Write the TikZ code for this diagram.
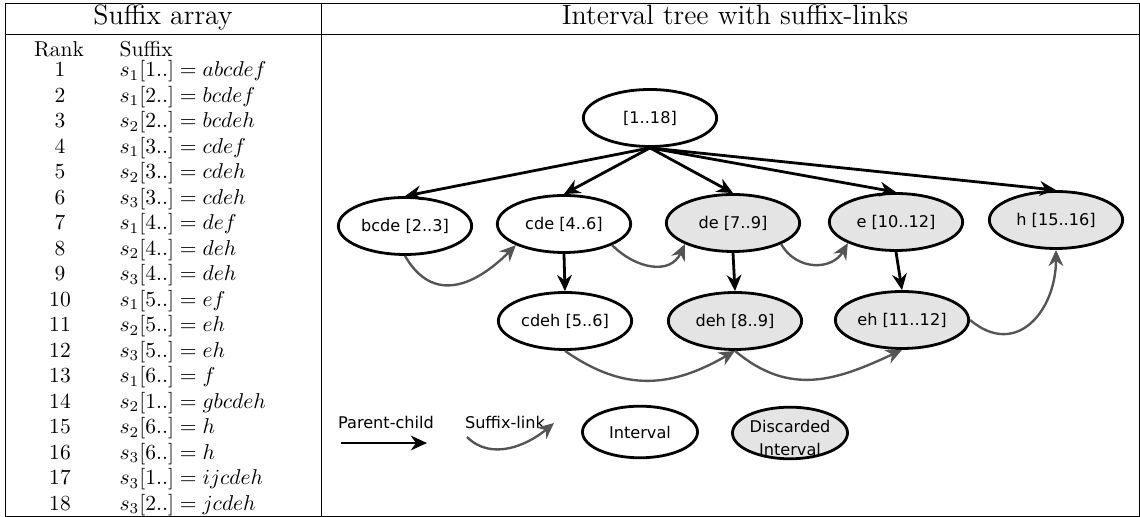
\documentclass[tikz,border=0pt]{standalone}
\usepackage{amsmath}
\usepackage{fontspec}
\setsansfont{DejaVu Sans}
\usetikzlibrary{arrows.meta,shapes.geometric}
\definecolor{discgray}{RGB}{228,228,228}
\definecolor{linkgray}{RGB}{85,85,85}
\tikzset{
	ival/.style={ellipse,draw,line width=1.3pt,inner sep=0pt,minimum width=62pt,minimum height=26.5pt,font=\sffamily\fontsize{7.5}{10.5}\selectfont},
	dival/.style={ival,fill=discgray},
	pc/.style={-{Stealth[length=7.5pt,width=6.8pt]},line width=1.3pt},
	sl/.style={-{Stealth[length=7.5pt,width=6.8pt]},line width=1.1pt,linkgray},
	lgd/.style={font=\sffamily\fontsize{7.5}{10.5}\selectfont},
	hdr/.style={font=\fontsize{13}{15.5}\selectfont,anchor=base}
}

\begin{document}
\begin{tikzpicture}[x=0.465pt,y=0.465pt]
	\useasboundingbox (0,0) rectangle (1140,-517);
	% table frame
	\draw [line width=0.4pt] (5,-3.5) rectangle (1139.8,-516);
	\draw [line width=0.4pt] (5,-34.5) -- (1139.8,-34.5);
	\draw [line width=0.4pt] (321,-3.5) -- (321,-516);
	\node [hdr] (hdsa) at (163,-25) {Suffix array};
	\node [hdr] (hdit) at (735,-25) {Interval tree with suffix-links};

	% suffix array
	\node [anchor=base] (rank0) at (59,-57) {Rank};
	\node [anchor=base west] (suf0) at (112,-57) {Suffix};
	\foreach \s/\p/\w [count=\i] in {1/1/abcdef,1/2/bcdef,2/2/bcdeh,1/3/cdef,2/3/cdeh,3/3/cdeh,1/4/def,2/4/deh,3/4/deh,1/5/ef,2/5/eh,3/5/eh,1/6/f,2/1/gbcdeh,2/6/h,3/6/h,3/1/ijcdeh,3/2/jcdeh} {
		\node [anchor=base] (rank\i) at (60,{-77-(\i-1)*25.5}) {\i};
		\node [anchor=base west] (suf\i) at (112,{-77-(\i-1)*25.5}) {$s_{\s}[\p..] = \w$};
	}

	% interval tree
	\node [ival] (root) at (650,-118) {[1..18]};
	\node [ival] (bcde) at (405,-226) {bcde [2..3]};
	\node [ival] (cde) at (564,-224) {cde [4..6]};
	\node [dival] (de) at (733,-223) {de [7..9]};
	\node [dival] (e) at (896,-222) {e [10..12]};
	\node [dival] (h) at (1056,-220) {h [15..16]};
	\node [ival] (cdeh) at (565,-321) {cdeh [5..6]};
	\node [dival] (deh) at (735,-321) {deh [8..9]};
	\node [dival] (eh) at (902,-320) {eh [11..12]};

	\foreach \c in {bcde,cde,de,e,h}
		\draw [pc] (root.south) -- (\c.north);
	\draw [pc] (cde.south) -- (cdeh.north);
	\draw [pc] (de.south) -- (deh.north);
	\draw [pc] (e.south) -- (eh.north);

	% suffix-links
	\draw [sl] (bcde.south) to[out=-60,in=-135,looseness=1.3] (cde.south west);
	\draw [sl] (cde.south east) to[out=-45,in=-115,looseness=1.2] (de.south west);
	\draw [sl] (de.south east) to[out=-60,in=-120,looseness=1.2] (e.south west);
	\draw [sl] (cdeh.south) to[out=-35,in=-150,looseness=1.1] (deh.south);
	\draw [sl] (deh.south) to[out=-40,in=-155,looseness=1.1] (eh.south);
	\draw [sl] (eh.east) to[out=-40,in=-90,looseness=1.4] (h.south);

	% legend
	\node [lgd] (pclbl) at (386,-422) {Parent-child};
	\coordinate (pcA) at (341,-443);
	\coordinate (pcB) at (427,-443);
	\draw [pc] (pcA) -- (pcB);
	\node [lgd] (sllbl) at (505,-422) {Suffix-link};
	\coordinate (slA) at (467,-437);
	\coordinate (slB) at (554,-423);
	\draw [sl] (slA) to[out=-45,in=-140] (slB);
	\node [ival,minimum width=53.5pt,minimum height=24pt] (ivl) at (640,-432) {Interval};
	\node [dival,minimum width=53.5pt,minimum height=24pt,label={[lgd,align=center,yshift=-2.3pt]center:Discarded\\Interval}] (divl) at (790,-433) {};
\end{tikzpicture}
\end{document}
